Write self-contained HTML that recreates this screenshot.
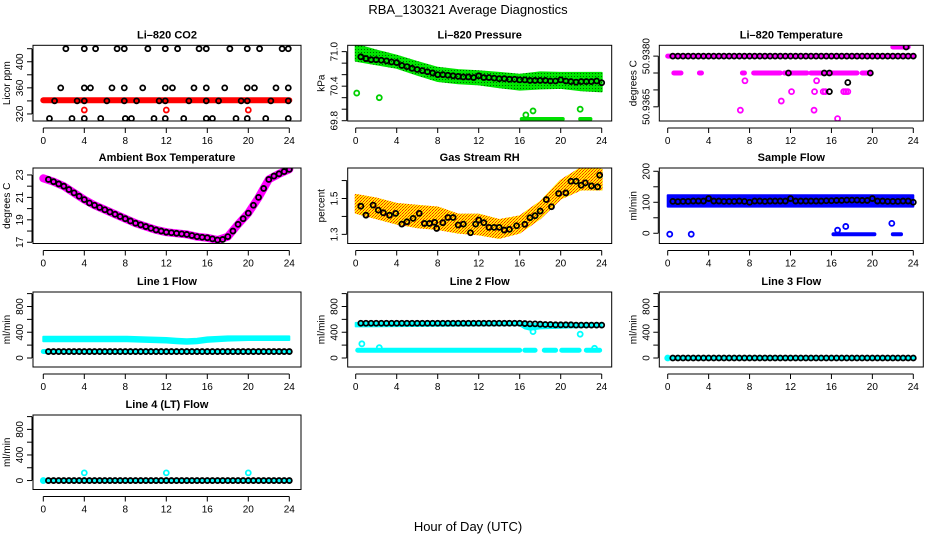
<!DOCTYPE html>
<html><head><meta charset="utf-8"><title>RBA_130321 Average Diagnostics</title>
<style>
html,body{margin:0;padding:0;background:#fff;}
svg{display:block;font-family:"Liberation Sans","DejaVu Sans",sans-serif;}
</style></head>
<body>
<svg id="chart" width="936" height="540" viewBox="0 0 936 540" xmlns="http://www.w3.org/2000/svg">
<defs>
<pattern id="greenDots" width="3" height="3" patternUnits="userSpaceOnUse"><rect width="3" height="3" fill="#00e600"/><rect x="1" y="1" width="1" height="1" fill="#006400"/></pattern>
<pattern id="rhDots" width="3" height="3" patternUnits="userSpaceOnUse"><rect width="3" height="3" fill="#ffee00"/><rect width="1" height="1" fill="#ff2000"/><rect x="2" y="1" width="1" height="1" fill="#ff6000"/><rect x="1" y="2" width="1" height="1" fill="#ff3000"/></pattern>
</defs>
<text x="468" y="14" text-anchor="middle" font-size="13">RBA_130321  Average Diagnostics</text>
<text x="468" y="531" text-anchor="middle" font-size="13">Hour of Day (UTC)</text>
</svg>
<script>
// ---------- shared tick data ----------
const xTicks=[0,4,8,12,16,20,24];
const halfHours=[0.5,1,1.5,2,2.5,3,3.5,4,4.5,5,5.5,6,6.5,7,7.5,8,8.5,9,9.5,10,10.5,11,11.5,12,12.5,13,13.5,14,14.5,15,15.5,16,16.5,17,17.5,18,18.5,19,19.5,20,20.5,21,21.5,22,22.5,23,23.5,24];

// ---------- CO2 ----------
const co2Ticks=[320,340,360,380,400,420];
const co2Labels=[320,360,400];
const co2RedHours=[0,24];
const co2RedVals=[341,341];
const co2RedOutHours=[4,12,20];
const co2RedOutVals=[326,326,326];
const co2BlackHours=[2.2,4.0,5.1,7.2,7.9,10.2,11.9,13.1,15.2,15.9,18.2,19.9,21.1,23.3,23.9,
 1.7,4.0,4.6,6.7,7.9,9.7,11.9,12.6,14.7,15.9,17.7,19.9,20.6,22.7,23.9,
 1.1,3.3,4.0,6.2,7.9,9.1,11.3,11.9,14.2,15.9,17.1,19.3,19.9,22.2,23.9,
 0.6,2.8,4.0,5.6,8.0,8.6,10.8,11.9,13.7,15.9,16.5,18.8,19.9,21.7,23.9];
const co2BlackVals=[420,420,420,420,420,420,420,420,420,420,420,420,420,420,420,
 360,360,360,360,360,360,360,360,360,360,360,360,360,360,360,
 340,340,340,340,340,340,340,340,340,340,340,340,340,340,340,
 313,313,313,313,313,313,313,313,313,313,313,313,313,313,313];

// ---------- Pressure ----------
const presTicks=[69.8,70.0,70.2,70.4,70.6,70.8,71.0];
const presLabels=["69.8","70.4","71.0"];
const presBandHours=[0,2,4,6,8,10,12,14,16,18,20,22,24];
const presBandUpper=[71.12,71.02,70.93,70.82,70.72,70.68,70.66,70.63,70.60,70.64,70.63,70.63,70.63];
const presBandLower=[70.84,70.78,70.72,70.60,70.49,70.45,70.43,70.38,70.34,70.36,70.37,70.33,70.31];
const presOutHours=[0.1,2.3,16.6,17.3,21.9];
const presOutVals=[70.28,70.2,69.9,69.97,70.0];
const presLowSegStart=[16.2,21.9];
const presLowSegEnd=[20.2,22.9];
const presLowVal=[69.83,69.83];
const presBlack=[70.91,70.88,70.86,70.86,70.85,70.84,70.82,70.81,70.76,70.74,70.71,70.69,70.67,70.65,70.63,70.60,70.60,70.59,70.58,70.57,70.56,70.56,70.55,70.58,70.55,70.55,70.54,70.53,70.53,70.52,70.52,70.51,70.51,70.50,70.50,70.50,70.50,70.49,70.49,70.51,70.49,70.48,70.47,70.48,70.48,70.48,70.49,70.46];

// ---------- Li-820 Temperature ----------
const tempTicks=[50.9365,50.9370,50.9375,50.9380];
const tempLabels=["50.9365","50.9380"];
const tempMainVal=[50.9380];
const tempSegStart=[0.6,3.1,7.3,8.4,11.4,14.0,15.5,19.0,22.0];
const tempSegEnd=[1.3,3.3,7.5,11.0,13.6,15.2,18.5,19.8,23.5];
const tempSegVal=[50.9375,50.9375,50.9375,50.9375,50.9375,50.9375,50.9375,50.9375,50.93827];
const tempMagHours=[7.55,14.55,12.1,14.35,15.2,15.4,17.2,17.4,17.6,11.1,7.1,14.3,16.6];
const tempMagVals=[50.93727,50.93727,50.93695,50.93695,50.93695,50.93695,50.93695,50.93695,50.93695,50.93667,50.9364,50.9364,50.93615];
const tempBlackHours=[11.8,15.3,15.8,19.8,15.8,17.6,23.3];
const tempBlackVals=[50.9375,50.9375,50.9375,50.9375,50.93695,50.93722,50.93827];

// ---------- Ambient ----------
const ambTicks=[17,18,19,20,21,22,23];
const ambLabels=[17,19,21,23];
const ambMagHours=[0,1,2,3,4,5,6,7,8,9,10,11,12,13,14,15,16,17,18,19,20,21,22,23,24];
const ambMagVals=[22.7,22.4,22.0,21.4,20.8,20.3,19.9,19.5,19.1,18.7,18.4,18.1,17.9,17.8,17.7,17.5,17.4,17.2,17.5,18.6,19.6,21.0,22.6,23.1,23.5];
const ambBlack=[22.6,22.4,22.2,22.0,21.7,21.4,21.1,20.8,20.5,20.3,20.1,19.9,19.7,19.5,19.3,19.1,18.9,18.7,18.55,18.4,18.25,18.1,18.0,17.9,17.85,17.8,17.75,17.7,17.6,17.5,17.45,17.4,17.3,17.2,17.25,17.5,18.0,18.6,19.1,19.6,20.3,21.0,21.8,22.6,22.9,23.1,23.3,23.5];

// ---------- Gas stream RH ----------
const rhTicks=[1.3,1.4,1.5,1.6];
const rhLabels=["1.3","1.5"];
const rhBandHours=[0,2,4,6,8,10,12,14,16,18,20,22,24];
const rhBandUpper=[1.52,1.50,1.47,1.46,1.45,1.41,1.41,1.38,1.40,1.48,1.60,1.67,1.66];
const rhBandLower=[1.42,1.39,1.36,1.34,1.33,1.31,1.30,1.28,1.31,1.39,1.50,1.55,1.55];
const rhBlackHours=[0.5,1,1.7,2.2,2.7,3.3,3.9,4.5,5,5.6,6.2,6.7,7.2,7.7,7.9,8.5,9,9.5,10,10.5,11.2,11.7,12,12.5,13,13.5,14,14.5,15,15.7,16.5,17,17.5,18,18.6,19.1,19.8,20.5,21,21.5,22,22.4,23,23.6,23.8];
const rhBlackVals=[1.457,1.407,1.463,1.435,1.42,1.407,1.417,1.357,1.37,1.389,1.417,1.361,1.361,1.367,1.333,1.365,1.394,1.394,1.352,1.357,1.309,1.357,1.38,1.365,1.339,1.339,1.339,1.324,1.328,1.348,1.356,1.393,1.404,1.43,1.494,1.454,1.528,1.531,1.596,1.596,1.574,1.587,1.57,1.565,1.63];

// ---------- Sample flow ----------
const sfTicks=[0,50,100,150,200];
const sfLabels=[0,100,200];
const sfBandHours=[0,24];
const sfBandUpper=[123,123];
const sfBandLower=[86,86];
const sfOutHours=[0.2,2.3,16.6,17.4,21.9];
const sfOutVals=[-3,-3,10,22,32];
const sfLowSegStart=[16.2,22.0];
const sfLowSegEnd=[20.2,22.8];
const sfLowVal=[-3,-3];
const sfBlack=[103,102,103,103,104,104,104,112,104,104,103,103,103,104,103,100,104,104,103,104,104,104,104,112,104,104,104,104,104,104,105,105,106,106,107,107,107,106,106,112,104,104,103,103,103,104,104,100];

// ---------- Line flows ----------
const flowTicks=[0,200,400,600,800,1000];
const flowLabels=[0,400,800];
const l1BandHours=[0,4,8,10,12,13,14,15,16,18,20,22,24];
const l1BandUpper=[330,330,330,320,310,300,290,300,320,335,335,335,335];
const l1BandLower=[260,260,260,250,240,230,220,230,250,270,280,280,280];
const l1LowHours=[0,24];
const l1LowVals=[100,100];
const l1Black=[100,100,100,100,100,100,100,100,100,100,100,100,100,100,100,100,100,100,100,100,100,100,100,100,100,100,100,100,100,100,100,100,100,100,100,100,100,100,100,100,100,100,100,100,100,100,100,100];
const l2BandHours=[0,16,16.5,17,18,20,22,24];
const l2BandUpper=[545,560,545,530,530,530,530,530];
const l2BandLower=[490,510,460,440,460,470,480,490];
const l2LowSegStart=[0.2,16.5,18.4,20.1,22.5];
const l2LowSegEnd=[16.0,17.5,19.5,21.8,23.8];
const l2LowVal=[120,120,120,120,120];
const l2OutHours=[0.6,2.3,17.3,21.9,23.3];
const l2OutVals=[220,160,410,370,150];
const l2Black=[540,540,540,540,540,540,540,540,540,540,540,540,540,540,540,540,540,540,540,540,540,540,540,540,540,540,540,540,540,540,540,540,535,530,530,525,520,520,515,515,515,515,510,510,510,510,510,510];
const l3Black=[0,0,0,0,0,0,0,0,0,0,0,0,0,0,0,0,0,0,0,0,0,0,0,0,0,0,0,0,0,0,0,0,0,0,0,0,0,0,0,0,0,0,0,0,0,0,0,0];
const l3CyanHours=[0,24];
const l3CyanVals=[0,0];
const l4Black=[0,0,0,0,0,0,0,0,0,0,0,0,0,0,0,0,0,0,0,0,0,0,0,0,0,0,0,0,0,0,0,0,0,0,0,0,0,0,0,0,0,0,0,0,0,0,0,0];
const l4CyanHours=[0,24];
const l4CyanVals=[0,0];
const l4OutHours=[4,12,20];
const l4OutVals=[120,120,120];

// ---------- layout ----------
const NS="http://www.w3.org/2000/svg";
const svg=document.getElementById('chart');
const COLS=[{L:33,W:268,x0:43.3,x24:289.3},{L:347.7,W:264,x0:355.7,x24:601.7},{L:659.3,W:264,x0:667.7,x24:913.3}];
const ROWS=[{T:45.3,B:121},{T:168,B:243.5},{T:292,B:367},{T:415,B:489.5}];

function el(tag,attrs,parent){const e=document.createElementNS(NS,tag);for(const k in attrs)e.setAttribute(k,attrs[k]);(parent||svg).appendChild(e);return e;}

function makePanel(name,title,ytitle,col,row,ymin,ymax,yTicks,yLabels){
  const c=COLS[col],r=ROWS[row];
  const g=el('g',{});
  
  
  const x=h=>c.x0+(h/24)*(c.x24-c.x0);
  const y=v=>r.B-(v-ymin)/(ymax-ymin)*(r.B-r.T);
  const t=el('text',{x:c.L+c.W/2,y:r.T-7,'text-anchor':'middle','font-size':'11','font-weight':'bold'},g);
  t.textContent=title;
  
  
  const plot=el('g',{},g);
  
  
  const box=el('rect',{x:c.L,y:r.T,width:c.W,height:r.B-r.T,fill:'none',stroke:'#000','stroke-width':1},g);
  
  
  const xa=el('g',{},g);
  
  
  el('line',{x1:x(xTicks[0]),x2:x(xTicks[xTicks.length-1]),y1:r.B+7,y2:r.B+7,stroke:'#000'},xa);
  xTicks.forEach(h=>{
    el('line',{x1:x(h),x2:x(h),y1:r.B+7,y2:r.B+12,stroke:'#000'},xa);
    const tl=el('text',{x:x(h),y:r.B+23,'text-anchor':'middle','font-size':'10'},xa);
    tl.textContent=h;
    
    
  });
  const ya=el('g',{},g);
  
  
  el('line',{x1:c.L-1,x2:c.L-1,y1:y(yTicks[0]),y2:y(yTicks[yTicks.length-1]),stroke:'#000'},ya);
  yTicks.forEach(v=>{el('line',{x1:c.L-6,x2:c.L-1,y1:y(v),y2:y(v),stroke:'#000'},ya);});
  yLabels.forEach(v=>{
    const yy=y(parseFloat(v));
    const tl=el('text',{x:c.L-10,y:yy,'text-anchor':'middle','font-size':'10',transform:`rotate(-90 ${c.L-10} ${yy})`},ya);
    tl.textContent=v;
    
    
  });
  const yt=el('text',{x:c.L-23,y:(r.T+r.B)/2,'text-anchor':'middle','font-size':'10',transform:`rotate(-90 ${c.L-23} ${(r.T+r.B)/2})`},ya);
  yt.textContent=ytitle;
  
  
  const cid='clip-'+name;
  const cp=el('clipPath',{id:cid},g);
  el('rect',{x:c.L,y:r.T,width:c.W,height:r.B-r.T},cp);
  plot.setAttribute('clip-path',`url(#${cid})`);
  g.appendChild(box);
  return {x,y,plot};
}
function pts(P,hs,vs){return hs.map((h,i)=>P.x(h).toFixed(1)+','+P.y(vs[i]).toFixed(1)).join(' ');}
function band(P,hs,up,lo,fill,name){
  const d=pts(P,hs,up)+' '+pts(P,hs.slice().reverse(),lo.slice().reverse());
  const p=el('polygon',{points:d,fill:fill,stroke:fill,'stroke-width':2,'stroke-linejoin':'round'},P.plot);
  
  
}
function thick(P,hs,vs,color,w,name){
  const p=el('polyline',{points:pts(P,hs,vs),fill:'none',stroke:color,'stroke-width':w,'stroke-linecap':'round','stroke-linejoin':'round'},P.plot);
  
  
}
function segs(P,s,e,v,color,w,name){
  s.forEach((h,i)=>{
    const p=el('line',{x1:P.x(h),x2:P.x(e[i]),y1:P.y(v[i]),y2:P.y(v[i]),stroke:color,'stroke-width':w,'stroke-linecap':'round'},P.plot);
    
    
  });
}
function circles(P,hs,vs,color,name){
  hs.forEach((h,i)=>{
    const c=el('circle',{cx:P.x(h),cy:P.y(vs[i]),r:2.5,fill:'none',stroke:color,'stroke-width':1.8},P.plot);
    
    
  });
}

let P=makePanel('co2','Li–820 CO2','Licor ppm',0,0,309.2,425.2,co2Ticks,co2Labels);
thick(P,co2RedHours,co2RedVals,'#ff0000',6,'co2-red-series');
circles(P,co2RedOutHours,co2RedOutVals,'#ff0000','co2-red-outlier');
circles(P,co2BlackHours,co2BlackVals,'#000','co2-average-point');

P=makePanel('pressure','Li–820 Pressure','kPa',1,0,69.795,71.11,presTicks,presLabels);
band(P,presBandHours,presBandUpper,presBandLower,'url(#greenDots)','pressure-green-band');
segs(P,presLowSegStart,presLowSegEnd,presLowVal,'#00e000',4,'pressure-low-segment');
circles(P,presOutHours,presOutVals,'#00d000','pressure-outlier');
circles(P,halfHours,presBlack,'#000','pressure-average-point');

P=makePanel('li820-temp','Li–820 Temperature','degrees C',2,0,50.93608,50.93832,tempTicks,tempLabels);
thick(P,[0,24],[tempMainVal[0],tempMainVal[0]],'#ff00ff',5,'temp-main-series');
segs(P,tempSegStart,tempSegEnd,tempSegVal,'#ff00ff',5,'temp-secondary-segment');
circles(P,tempMagHours,tempMagVals,'#ff00ff','temp-outlier');
circles(P,halfHours,halfHours.map(()=>tempMainVal[0]),'#000','temp-average-point');
circles(P,tempBlackHours,tempBlackVals,'#000','temp-average-extra');

P=makePanel('ambient','Ambient Box Temperature','degrees C',0,1,16.89,23.62,ambTicks,ambLabels);
thick(P,ambMagHours,ambMagVals,'#ff00ff',8,'ambient-magenta-series');
circles(P,halfHours,ambBlack,'#000','ambient-average-point');

P=makePanel('rh','Gas Stream RH','percent',1,1,1.249,1.67,rhTicks,rhLabels);
band(P,rhBandHours,rhBandUpper,rhBandLower,'url(#rhDots)','rh-band');
circles(P,rhBlackHours,rhBlackVals,'#000','rh-average-point');

P=makePanel('sample-flow','Sample Flow','ml/min',2,1,-33,210.6,sfTicks,sfLabels);
band(P,sfBandHours,sfBandUpper,sfBandLower,'#0000ff','sample-flow-band');
segs(P,sfLowSegStart,sfLowSegEnd,sfLowVal,'#0000ff',4,'sample-flow-low-segment');
circles(P,sfOutHours,sfOutVals,'#0000ff','sample-flow-outlier');
circles(P,halfHours,sfBlack,'#000','sample-flow-average-point');

P=makePanel('line1','Line 1 Flow','ml/min',0,2,-140,1025,flowTicks,flowLabels);
band(P,l1BandHours,l1BandUpper,l1BandLower,'#00ffff','line1-upper-band');
thick(P,l1LowHours,l1LowVals,'#00ffff',5,'line1-low-series');
circles(P,halfHours,l1Black,'#000','line1-average-point');

P=makePanel('line2','Line 2 Flow','ml/min',1,2,-140,1025,flowTicks,flowLabels);
band(P,l2BandHours,l2BandUpper,l2BandLower,'#00ffff','line2-upper-band');
segs(P,l2LowSegStart,l2LowSegEnd,l2LowVal,'#00ffff',5,'line2-low-segment');
circles(P,l2OutHours,l2OutVals,'#00ffff','line2-outlier');
circles(P,halfHours,l2Black,'#000','line2-average-point');

P=makePanel('line3','Line 3 Flow','ml/min',2,2,-140,1025,flowTicks,flowLabels);
thick(P,l3CyanHours,l3CyanVals,'#00ffff',4,'line3-cyan-series');
circles(P,[0],[l3CyanVals[0]],'#00ffff','line3-cyan-point');
circles(P,halfHours,l3Black,'#000','line3-average-point');

P=makePanel('line4','Line 4 (LT) Flow','ml/min',0,3,-140,1025,flowTicks,flowLabels);
thick(P,l4CyanHours,l4CyanVals,'#00ffff',4,'line4-cyan-series');
circles(P,[0],[l4CyanVals[0]],'#00ffff','line4-cyan-point');
circles(P,l4OutHours,l4OutVals,'#00ffff','line4-outlier');
circles(P,halfHours,l4Black,'#000','line4-average-point');
</script>
</body></html>
